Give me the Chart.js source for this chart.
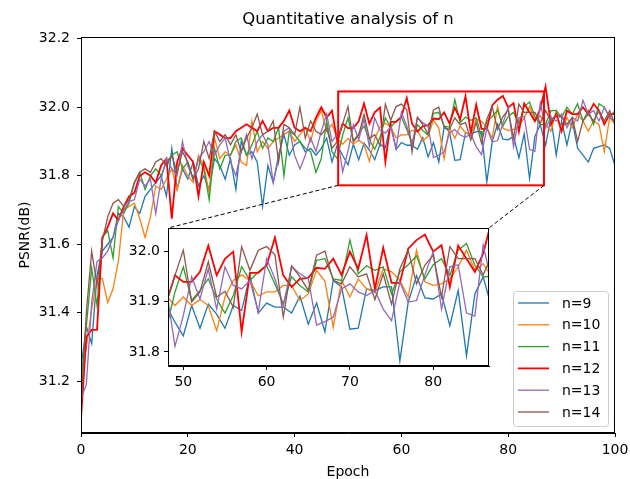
<!DOCTYPE html>
<html>
<head>
<meta charset="utf-8">
<script src="https://cdn.jsdelivr.net/npm/chart.js@4"></script>
<style>
  html, body { margin: 0; padding: 0; background: #fff; }
  #wrap { position: relative; width: 630px; height: 479px; }
  #main { position: absolute; left: 0; top: 0; }
  #inset { position: absolute; left: 120px; top: 222px; }
</style>
</head>
<body>
<div id="wrap">
  <canvas id="main" width="630" height="479"></canvas>
  <canvas id="inset" width="372" height="175"></canvas>
</div>
<script>
// ---------- data ----------
const epochs = Array.from({length: 101}, (_, i) => i);
const seriesLabels = ['n=9', 'n=10', 'n=11', 'n=12', 'n=13', 'n=14'];
const chartTitle = 'Quantitative analysis of n';

const n9 = [31.24,31.36,31.31,31.51,31.58,31.60,31.62,31.69,31.68,31.65,
31.71,31.69,31.74,31.76,31.78,31.80,31.74,31.88,31.76,31.82,
31.79,31.84,31.77,31.80,31.76,31.85,31.83,31.79,31.85,31.76,
31.90,31.86,31.87,31.84,31.71,31.83,31.78,31.86,31.92,31.86,
31.89,31.90,31.87,31.88,31.86,31.88,31.91,31.84,31.89,31.859,
31.832,31.892,31.847,31.895,31.875,31.847,31.892,31.882,31.952,31.877,
31.897,31.889,31.889,31.877,31.911,31.855,31.897,31.84,31.942,31.929,
31.845,31.847,31.925,31.922,31.929,31.929,31.782,31.899,31.951,31.907,
31.905,31.915,31.852,31.922,31.792,31.915,31.949,31.889,31.97,31.86,
31.96,31.89,31.96,31.88,31.86,31.84,31.88,31.885,31.89,31.88,
31.83];

const n10 = [31.18,31.30,31.41,31.50,31.50,31.43,31.47,31.55,31.70,31.71,
31.72,31.675,31.62,31.68,31.77,31.76,31.79,31.82,31.76,31.83,
31.80,31.78,31.86,31.83,31.75,31.91,31.85,31.87,31.86,31.89,
31.84,31.83,31.96,31.87,31.90,31.88,31.90,31.91,31.92,31.93,
31.90,31.92,31.94,31.90,31.96,31.99,31.93,31.95,31.91,31.892,
31.909,31.892,31.904,31.892,31.842,31.909,31.942,31.953,31.942,31.911,
31.919,31.919,31.932,31.932,31.902,31.915,31.962,31.94,31.849,31.942,
31.909,31.945,31.925,31.919,31.965,31.959,31.942,31.909,32.002,31.939,
31.932,31.935,31.945,31.969,32.002,31.962,31.975,31.95,31.93,31.99,
31.93,31.97,31.94,31.98,31.96,31.93,31.96,31.95,31.87,31.97,
31.95];

const n11 = [31.20,31.36,31.53,31.42,31.62,31.64,31.56,31.71,31.69,31.72,
31.78,31.81,31.76,31.80,31.82,31.80,31.84,31.86,31.87,31.82,
31.84,31.79,31.85,31.82,31.73,31.88,31.82,31.86,31.86,31.90,
31.91,31.86,31.89,31.93,31.88,31.91,31.90,31.94,31.80,31.93,
31.92,31.90,31.88,31.87,31.81,31.85,31.96,31.87,31.85,31.919,
31.969,31.902,31.922,31.945,31.905,31.877,31.912,31.969,31.942,31.959,
31.971,31.935,31.895,31.949,31.932,31.919,31.982,31.985,31.945,31.942,
32.022,31.955,31.971,31.962,31.969,31.915,31.959,31.973,31.991,31.945,
31.973,31.985,31.952,32.002,32.015,31.972,31.949,31.95,31.99,31.99,
31.97,32.00,31.98,32.01,31.96,31.99,31.95,32.01,32.00,31.97,
31.99];

const n12 = [31.09,31.33,31.35,31.35,31.62,31.65,31.69,31.67,31.71,31.74,
31.75,31.80,31.81,31.80,31.78,31.83,31.85,31.675,31.84,31.88,
31.86,31.84,31.74,31.84,31.80,31.93,31.92,31.91,31.91,31.93,
31.94,31.95,31.94,31.93,31.96,31.93,31.94,31.94,31.96,31.99,
31.94,31.93,31.94,31.93,31.97,32.00,31.97,31.99,31.90,31.952,
31.939,31.939,31.959,32.011,31.952,31.985,31.999,31.84,31.957,31.957,
31.972,32.027,31.952,31.929,31.945,31.947,31.967,31.965,31.985,31.953,
31.999,31.965,32.032,31.925,32.007,31.937,31.937,32.005,32.022,32.033,
31.999,32.012,31.929,32.011,31.985,31.959,31.995,32.06,31.95,31.98,
31.93,31.99,31.98,31.98,32.00,31.98,32.01,31.99,31.95,31.98,
31.98];

const n13 = [31.15,31.19,31.43,31.55,31.56,31.58,31.62,31.67,31.70,31.725,
31.73,31.79,31.77,31.79,31.69,31.79,31.85,31.82,31.80,31.90,
31.83,31.79,31.85,31.87,31.90,31.86,31.89,31.91,31.84,31.80,
31.87,31.92,31.85,31.90,31.92,31.89,31.78,31.85,31.93,31.94,
31.86,31.82,31.86,31.91,31.87,31.93,31.98,31.90,31.92,31.811,
31.872,31.949,31.905,31.965,31.885,31.969,31.932,31.925,31.942,31.879,
31.985,31.945,31.892,31.969,31.955,31.945,31.853,31.86,31.869,31.925,
31.935,31.919,31.912,31.922,31.885,31.862,31.939,31.899,31.902,31.953,
31.999,31.885,31.969,31.973,31.877,31.871,32.012,31.94,31.97,31.96,
31.98,31.94,31.97,31.96,32.02,31.98,31.99,31.96,32.00,31.97,
31.96];

const n14 = [31.12,31.40,31.58,31.48,31.61,31.68,31.72,31.73,31.71,31.73,
31.78,31.81,31.82,31.81,31.84,31.85,31.83,31.86,31.81,31.87,
31.84,31.79,31.82,31.90,31.85,31.93,31.90,31.92,31.89,31.92,
31.87,31.91,31.94,31.98,31.92,31.93,31.96,31.84,31.95,31.94,
31.92,32.00,31.91,31.96,31.93,31.92,31.94,31.88,31.90,31.952,
32.002,31.899,31.919,31.979,31.909,31.92,31.889,32.009,31.962,32.002,
32.009,31.993,31.869,31.971,31.949,31.922,31.992,32.0,31.942,31.935,
31.969,31.949,31.955,31.904,31.955,31.895,31.965,32.002,31.935,31.972,
31.992,31.909,32.009,31.985,31.985,31.985,31.953,31.99,31.96,31.98,
31.97,31.95,31.97,31.90,31.96,31.98,31.96,31.99,31.96,31.99,
31.95];

const xTicks = [0, 20, 40, 60, 80, 100];
const yTicks = [31.2, 31.4, 31.6, 31.8, 32.0, 32.2];
const insetXTicks = [50, 60, 70, 80];
const insetYTicks = [31.8, 31.9, 32.0];
const zoomX = [48.16, 86.7];
const zoomY = [31.772, 32.046];

// ---------- styling ----------
const FONT = "'DejaVu Sans', 'Liberation Sans', sans-serif";
const colors = ['#1f77b4', '#ff7f0e', '#2ca02c', '#ff0000', '#9467bd', '#8c564b'];
const widths = [1.3, 1.3, 1.3, 1.8, 1.3, 1.3];
const allSeries = [n9, n10, n11, n12, n13, n14];
const INSET_BOX = {left: 168, top: 228, right: 489, bottom: 366};

function makeDatasets() {
  return allSeries.map((vals, i) => ({
    label: seriesLabels[i],
    data: vals,
    borderColor: colors[i],
    backgroundColor: colors[i],
    borderWidth: widths[i],
    pointRadius: 0,
    tension: 0,
    fill: false,
    order: allSeries.length - i
  }));
}

function tickSetter(list) {
  return s => { s.ticks = list.map(v => ({value: v})); };
}

const framePlugin = {
  id: 'frame',
  beforeDraw(chart) {
    const {ctx, chartArea: a} = chart;
    ctx.save();
    ctx.fillStyle = '#fff';
    ctx.fillRect(a.left, a.top, a.right - a.left, a.bottom - a.top);
    ctx.restore();
  },
  afterDraw(chart) {
    const {ctx, chartArea: a} = chart;
    ctx.save();
    ctx.strokeStyle = '#000';
    ctx.lineWidth = 1;
    ctx.strokeRect(Math.round(a.left) + 0.5, Math.round(a.top) + 0.5,
                   Math.round(a.right - a.left) - 1, Math.round(a.bottom - a.top) - 1);
    ctx.restore();
  }
};

const titlePlugin = {
  id: 'axesTitle',
  afterDraw(chart) {
    const {ctx, chartArea: a} = chart;
    ctx.save();
    ctx.font = '16.5px ' + FONT;
    ctx.fillStyle = '#000';
    ctx.textAlign = 'center';
    ctx.textBaseline = 'middle';
    ctx.fillText(chartTitle, (a.left + a.right) / 2, 20);
    ctx.restore();
  }
};

const zoomPlugin = {
  id: 'zoomMark',
  afterDatasetsDraw(chart) {
    const {ctx} = chart;
    const xs = chart.scales.x, ys = chart.scales.y;
    const x0 = xs.getPixelForValue(zoomX[0]), x1 = xs.getPixelForValue(zoomX[1]);
    const y0 = ys.getPixelForValue(zoomY[1]), y1 = ys.getPixelForValue(zoomY[0]);
    ctx.save();
    ctx.strokeStyle = '#ff0000';
    ctx.lineWidth = 2;
    ctx.strokeRect(x0, y0, x1 - x0, y1 - y0);
    ctx.strokeStyle = '#000';
    ctx.lineWidth = 1;
    ctx.setLineDash([4, 2.5]);
    ctx.beginPath();
    ctx.moveTo(x0, y1); ctx.lineTo(INSET_BOX.left, INSET_BOX.top);
    ctx.moveTo(x1, y1); ctx.lineTo(INSET_BOX.right, INSET_BOX.top);
    ctx.stroke();
    ctx.restore();
  }
};

const legendPlugin = {
  id: 'mplLegend',
  afterDraw(chart) {
    const {ctx, chartArea: a} = chart;
    const w = 95, h = 135;
    const right = a.right - 7, bottom = a.bottom - 7;
    const left = right - w, top = bottom - h;
    ctx.save();
    ctx.beginPath();
    if (ctx.roundRect) ctx.roundRect(left + 0.5, top + 0.5, w, h, 3);
    else ctx.rect(left + 0.5, top + 0.5, w, h);
    ctx.fillStyle = 'rgba(255,255,255,0.8)';
    ctx.fill();
    ctx.strokeStyle = '#cccccc';
    ctx.lineWidth = 1;
    ctx.stroke();
    ctx.font = '14px ' + FONT;
    ctx.textBaseline = 'middle';
    ctx.textAlign = 'left';
    seriesLabels.forEach((lab, i) => {
      const y = top + 12 + i * 21.8;
      ctx.strokeStyle = colors[i];
      ctx.lineWidth = widths[i];
      ctx.beginPath();
      ctx.moveTo(left + 5, y);
      ctx.lineTo(left + 36, y);
      ctx.stroke();
      ctx.fillStyle = '#000';
      ctx.fillText(lab, left + 49, y + 1);
    });
    ctx.restore();
  }
};

const tickFont = {family: FONT, size: 14};
const gridOpt = {drawOnChartArea: false, drawTicks: true, tickLength: 4, color: '#000', tickWidth: 1};
const borderOpt = {display: true, color: '#000', width: 1};

function noPad(s) { s.paddingLeft = 0; s.paddingRight = 0; s.paddingTop = 0; s.paddingBottom = 0; }

new Chart(document.getElementById('main'), {
  type: 'line',
  data: {labels: epochs, datasets: makeDatasets()},
  options: {
    responsive: false,
    animation: false,
    devicePixelRatio: 1,
    events: [],
    layout: {padding: {top: 37, right: 15, bottom: 0, left: 0}},
    plugins: {
      legend: {display: false},
      tooltip: {enabled: false},
      title: {display: false}
    },
    scales: {
      x: {
        type: 'linear', min: 0, max: 100,
        afterBuildTicks: tickSetter(xTicks),
        afterFit: s => { s.height = 46; noPad(s); },
        grid: gridOpt, border: borderOpt,
        ticks: {color: '#000', font: tickFont, padding: 5, maxRotation: 0, autoSkip: false,
                callback: v => String(v)},
        title: {display: true, text: 'Epoch', color: '#000', font: tickFont, padding: {top: 0, bottom: -2}}
      },
      y: {
        type: 'linear', min: 31.049, max: 32.205,
        afterBuildTicks: tickSetter(yTicks),
        afterFit: s => { s.width = 81; noPad(s); },
        grid: gridOpt, border: borderOpt,
        ticks: {color: '#000', font: tickFont, padding: 7, autoSkip: false,
                callback: v => Number(v).toFixed(1)},
        title: {display: true, text: 'PSNR(dB)', color: '#000', font: tickFont, padding: {top: 17, bottom: 0}}
      }
    }
  },
  plugins: [framePlugin, zoomPlugin, legendPlugin, titlePlugin]
});

new Chart(document.getElementById('inset'), {
  type: 'line',
  data: {labels: epochs, datasets: makeDatasets()},
  options: {
    responsive: false,
    animation: false,
    devicePixelRatio: 1,
    events: [],
    layout: {padding: {top: 6, right: 3, bottom: 0, left: 0}},
    plugins: {legend: {display: false}, tooltip: {enabled: false}, title: {display: false}},
    scales: {
      x: {
        type: 'linear', min: zoomX[0], max: zoomX[1],
        afterBuildTicks: tickSetter(insetXTicks),
        afterFit: s => { s.height = 31; noPad(s); },
        grid: gridOpt, border: borderOpt,
        ticks: {color: '#000', font: tickFont, padding: 4, maxRotation: 0, autoSkip: false,
                callback: v => String(v)}
      },
      y: {
        type: 'linear', min: zoomY[0], max: zoomY[1],
        afterBuildTicks: tickSetter(insetYTicks),
        afterFit: s => { s.width = 48; noPad(s); },
        grid: gridOpt, border: borderOpt,
        ticks: {color: '#000', font: tickFont, padding: 4, autoSkip: false,
                callback: v => Number(v).toFixed(1)}
      }
    }
  },
  plugins: [framePlugin]
});
</script>
</body>
</html>
